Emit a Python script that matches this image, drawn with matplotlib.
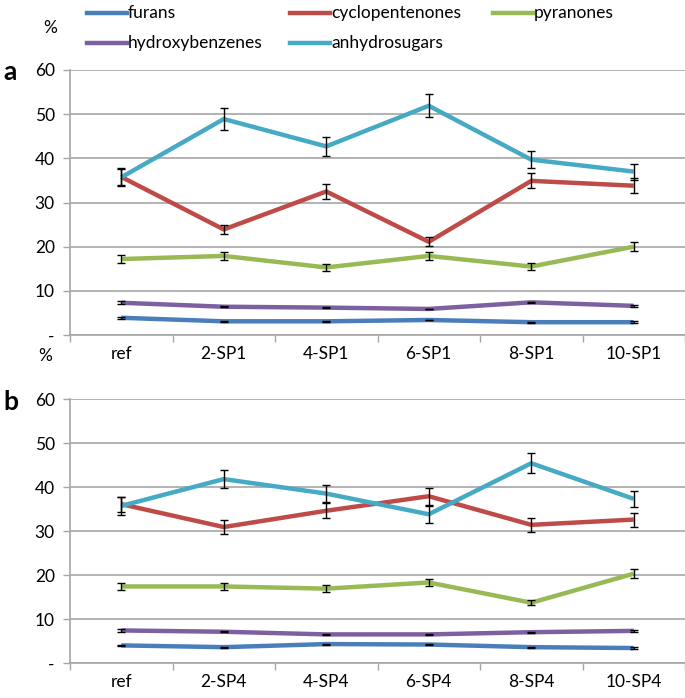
import matplotlib.pyplot as plt
import numpy as np
from matplotlib.lines import Line2D

plt.rcParams['font.family'] = ['Lato', 'DejaVu Sans']

series = ["furans", "cyclopentenones", "pyranones", "hydroxybenzenes", "anhydrosugars"]
colors = ["#4a7ebb", "#be4b48", "#98b954", "#7d60a0", "#46aac5"]

cats_a = ["ref", "2-SP1", "4-SP1", "6-SP1", "8-SP1", "10-SP1"]
cats_b = ["ref", "2-SP4", "4-SP4", "6-SP4", "8-SP4", "10-SP4"]

# panel a (SP1)
furans_a = [3.9, 3.1, 3.1, 3.4, 2.9, 2.9]
cyclo_a = [35.8, 23.9, 32.5, 21.1, 34.9, 33.8]
pyran_a = [17.2, 17.9, 15.3, 17.9, 15.5, 20.0]
hydroxy_a = [7.3, 6.4, 6.2, 5.9, 7.4, 6.6]
anhydro_a = [35.7, 48.9, 42.7, 51.9, 39.7, 37.0]

furans_a_err = [0.2, 0.1, 0.1, 0.1, 0.1, 0.2]
cyclo_a_err = [1.8, 1.1, 1.7, 1.0, 1.7, 1.7]
pyran_a_err = [0.9, 0.9, 0.8, 0.9, 0.8, 1.0]
hydroxy_a_err = [0.3, 0.1, 0.1, 0.1, 0.1, 0.2]
anhydro_a_err = [2.0, 2.4, 2.2, 2.6, 2.0, 1.8]

# panel b (SP4)
furans_b = [4.0, 3.6, 4.3, 4.2, 3.6, 3.4]
cyclo_b = [36.1, 30.9, 34.6, 37.9, 31.4, 32.6]
pyran_b = [17.4, 17.4, 16.9, 18.3, 13.7, 20.3]
hydroxy_b = [7.4, 7.1, 6.5, 6.5, 7.0, 7.3]
anhydro_b = [35.7, 41.8, 38.5, 33.8, 45.4, 37.3]

furans_b_err = [0.2, 0.1, 0.1, 0.1, 0.1, 0.2]
cyclo_b_err = [1.7, 1.6, 1.7, 1.9, 1.6, 1.6]
pyran_b_err = [0.8, 0.8, 0.8, 0.7, 0.6, 1.0]
hydroxy_b_err = [0.3, 0.1, 0.1, 0.1, 0.1, 0.3]
anhydro_b_err = [2.0, 2.1, 1.9, 1.9, 2.3, 1.9]

vals_a = [furans_a, cyclo_a, pyran_a, hydroxy_a, anhydro_a]
errs_a = [furans_a_err, cyclo_a_err, pyran_a_err, hydroxy_a_err, anhydro_a_err]
vals_b = [furans_b, cyclo_b, pyran_b, hydroxy_b, anhydro_b]
errs_b = [furans_b_err, cyclo_b_err, pyran_b_err, hydroxy_b_err, anhydro_b_err]

W, H = 685, 698
fig = plt.figure(figsize=(W / 100, H / 100), dpi=100)

GRID = "#a6a6a6"
FS = 12.5


def panel(rect, cats, vals, errs):
    ax = fig.add_axes(rect)
    x = np.arange(len(cats))
    for v, e, c in zip(vals, errs, colors):
        ax.plot(x, v, color=c, lw=3.2, solid_capstyle="butt", zorder=3)
        ax.errorbar(x, v, yerr=e, fmt="none", ecolor="black", elinewidth=1.0,
                    capsize=3, capthick=1.0, zorder=4)
    ax.set_xlim(-0.5, len(cats) - 0.5)
    ax.set_ylim(0, 60)
    ax.set_yticks(range(0, 61, 10))
    ax.set_yticklabels(["-"] + [str(t) for t in range(10, 61, 10)])
    ax.set_xticks(x)
    ax.set_xticklabels(cats)
    ax.set_xticks(np.arange(-0.5, len(cats), 1.0), minor=True)
    ax.tick_params(axis="x", which="major", length=0, pad=8, labelsize=FS)
    ax.tick_params(axis="x", which="minor", length=5, color=GRID, width=1)
    ax.tick_params(axis="y", length=5, color=GRID, width=1, labelsize=FS, pad=6)
    ax.yaxis.grid(True, color=GRID, lw=1.2)
    ax.set_axisbelow(True)
    for s in ("top", "right"):
        ax.spines[s].set_visible(False)
    for s in ("left", "bottom"):
        ax.spines[s].set_color(GRID)
        ax.spines[s].set_linewidth(1.2)
    return ax


panel([70 / W, 1 - 335 / H, 1 - 70 / W, 265 / H], cats_a, vals_a, errs_a)
panel([70 / W, 1 - 663 / H, 1 - 70 / W, 264 / H], cats_b, vals_b, errs_b)

# legend drawn by hand to keep Excel-like fixed columns
leg_pos = [(87, 13), (290, 13), (493, 13), (87, 43), (290, 43)]
for name, c, (lx, ly) in zip(series, colors, leg_pos):
    fig.add_artist(Line2D([lx / W, (lx + 40) / W], [1 - ly / H, 1 - ly / H],
                          color=c, lw=3.2, transform=fig.transFigure))
    fig.text((lx + 41) / W, 1 - ly / H, name, fontsize=FS, va="center", ha="left")

fig.text(50 / W, 1 - 28 / H, "%", fontsize=FS, ha="center", va="center")
fig.text(45 / W, 1 - 356 / H, "%", fontsize=FS, ha="center", va="center")
fig.text(3 / W, 1 - 72 / H, "a", fontsize=19, fontweight="bold", ha="left", va="center")
fig.text(3 / W, 1 - 402 / H, "b", fontsize=19, fontweight="bold", ha="left", va="center")

fig.savefig("out.png", dpi=100)
